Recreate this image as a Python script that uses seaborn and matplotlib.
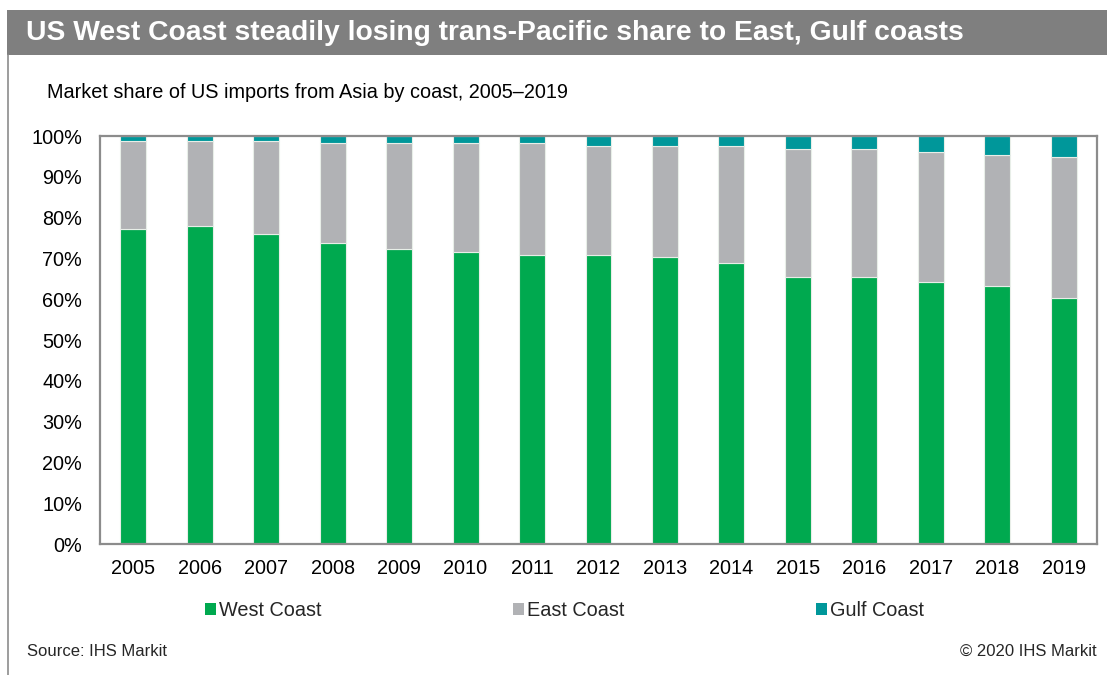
import matplotlib
matplotlib.use("Agg")
import matplotlib.pyplot as plt
from matplotlib.patches import Rectangle
from matplotlib.lines import Line2D
import seaborn as sns
import pandas as pd

years = ["2005", "2006", "2007", "2008", "2009", "2010", "2011", "2012",
         "2013", "2014", "2015", "2016", "2017", "2018", "2019"]
west_coast = [77.3, 78.0, 75.9, 73.7, 72.3, 71.6, 70.9, 70.9, 70.3, 68.9, 65.4, 65.4, 64.1, 63.3, 60.4]
east_coast = [21.5, 20.8, 22.9, 24.5, 25.9, 26.6, 27.3, 26.6, 27.2, 28.6, 31.4, 31.4, 32.0, 32.1, 34.4]
gulf_coast = [1.2, 1.2, 1.2, 1.8, 1.8, 1.8, 1.8, 2.5, 2.5, 2.5, 3.2, 3.2, 3.9, 4.6, 5.2]
series_names = ["West Coast", "East Coast", "Gulf Coast"]
y_ticks = [0, 10, 20, 30, 40, 50, 60, 70, 80, 90, 100]

colors = {"West Coast": "#00A94F", "East Coast": "#B1B2B5", "Gulf Coast": "#00979A"}

sns.set_theme(style="white")
plt.rcParams["font.family"] = ["Liberation Sans", "DejaVu Sans"]

df = pd.DataFrame({"year": years, "West Coast": west_coast,
                   "East Coast": east_coast, "Gulf Coast": gulf_coast})

fig = plt.figure(figsize=(11.07, 6.75), dpi=100)
ax = fig.add_axes([0.0903, 0.194, 0.9007, 0.6045])

bottom = [0.0] * len(years)
for name in series_names:
    sns.barplot(data=df, x="year", y=name, bottom=bottom, color=colors[name],
                width=0.39, edgecolor="#E8EEE8", linewidth=0.8, saturation=1,
                ax=ax, zorder=2)
    bottom = [b + v for b, v in zip(bottom, df[name])]

ax.set_xlim(-0.5, len(years) - 0.5)
ax.set_ylim(0, 100)
ax.set_yticks(y_ticks)
ax.set_yticklabels([f"{t}%" for t in y_ticks])
ax.set_xlabel("")
ax.set_ylabel("")
ax.tick_params(axis="both", length=0, labelsize=14.3, colors="#000000")
ax.tick_params(axis="x", pad=11)
ax.tick_params(axis="y", pad=13)
for sp in ax.spines.values():
    sp.set_visible(True)
    sp.set_color("#8C8C8C")
    sp.set_linewidth(1.6)

# Header band with title
fig.patches.append(Rectangle((7 / 1107, 1 - 55 / 675), 1 - 7 / 1107, 45 / 675,
                             transform=fig.transFigure, facecolor="#7F7F7F",
                             edgecolor="none", zorder=0))
fig.lines.append(Line2D([7.5 / 1107, 7.5 / 1107], [0, 1 - 55 / 675],
                        transform=fig.transFigure, color="#8C8C8C", linewidth=1.2))
fig.text(26 / 1107, 1 - 33 / 675,
         "US West Coast steadily losing trans-Pacific share to East, Gulf coasts",
         color="white", fontsize=20.3, fontweight="bold", va="center", ha="left")
fig.text(47 / 1107, 1 - 92 / 675,
         "Market share of US imports from Asia by coast, 2005\u20132019",
         color="black", fontsize=14.3, va="center", ha="left")

# Legend
handles = [Rectangle((0, 0), 1, 1, facecolor=colors[n], edgecolor="none") for n in series_names]
fig.legend(handles, series_names, loc="center left",
           bbox_to_anchor=(205 / 1107, 1 - 611 / 675), ncol=3, frameon=False,
           fontsize=14.3, handlelength=0.55, handleheight=0.55, handletextpad=0.15,
           columnspacing=9.65, borderaxespad=0, borderpad=0)

fig.text(27 / 1107, 1 - 651 / 675, "Source: IHS Markit", fontsize=12,
         va="center", ha="left")
fig.text(1097 / 1107, 1 - 651 / 675, "\u00a9 2020 IHS Markit", fontsize=12,
         va="center", ha="right")

fig.savefig("out.png", dpi=100, facecolor="white")
